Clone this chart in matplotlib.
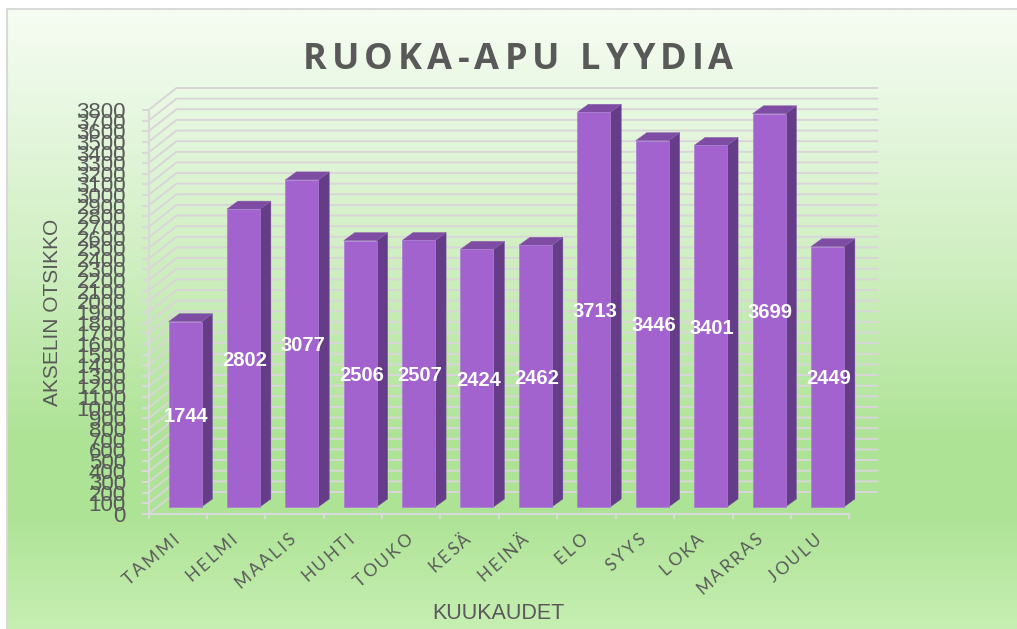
import numpy as np
import matplotlib
matplotlib.use("Agg")
import matplotlib.pyplot as plt
from matplotlib.patches import Polygon
from matplotlib.text import Text
from matplotlib.textpath import text_to_path
from matplotlib.transforms import IdentityTransform

months = ["TAMMI", "HELMI", "MAALIS", "HUHTI", "TOUKO", "KESÄ", "HEINÄ", "ELO", "SYYS", "LOKA", "MARRAS", "JOULU"]
values = [1744, 2802, 3077, 2506, 2507, 2424, 2462, 3713, 3446, 3401, 3699, 2449]
y_ticks = np.arange(0, 3900, 100)
title = "RUOKA-APU LYYDIA"
x_title = "KUUKAUDET"
y_title = "AKSELIN OTSIKKO"

W, H = 1017, 629
GREY = "#595959"
GRID = "#d9d5d9"
FRONT, SIDE, TOP = "#a263cf", "#643c87", "#7e4ca3"

# front plane of the fake 3d box, in pixels
LEFT, RIGHT, BASE, CEIL = 148.5, 849.3, 514.0, 110.0
PX_X = (RIGHT - LEFT) / 12
PX_Y = (BASE - CEIL) / 3800


class SpacedText(Text):
    """Text with letter spacing in pixels, matplotlib has no option for that."""
    def __init__(self, x, y, s, spacing=0, **kw):
        super().__init__(x, y, s, **kw)
        self.spacing = spacing

    def draw(self, renderer):
        s = self.get_text()
        prop = self.get_fontproperties()
        scale = self.get_figure().dpi / 72
        adv = [text_to_path.get_text_width_height_descent(s[:i], prop, False)[0] * scale + i * self.spacing
               if i else 0.0 for i in range(len(s))]
        total = text_to_path.get_text_width_height_descent(s, prop, False)[0] * scale + (len(s) - 1) * self.spacing
        shift = {"left": 0.0, "center": -total / 2, "right": -total}[self.get_ha()]
        a = np.radians(self.get_rotation())
        x0, y0 = self.get_transform().transform(self.get_position())
        for ch, p in zip(s, adv):
            t = Text(x0 + (p + shift) * np.cos(a), y0 + (p + shift) * np.sin(a), ch,
                     fontproperties=prop, color=self.get_color(), rotation=self.get_rotation(),
                     rotation_mode="anchor", ha="left", va="baseline", transform=IdentityTransform())
            t.set_figure(self.get_figure())
            t.draw(renderer)


fig = plt.figure(figsize=(W / 100, H / 100), dpi=100, facecolor="white")

# chart area background, vertical gradient
bg = fig.add_axes([0, 0, 1, 1], zorder=0)
bg.set_xlim(0, W); bg.set_ylim(H, 0); bg.axis("off")
rows = np.arange(H)
stops = [9, 90, 270, 440, 510, 629]
rgb = [(245, 252, 241), (233, 248, 227), (205, 238, 190), (173, 227, 149), (173, 227, 149), (199, 239, 179)]
grad = np.stack([np.interp(rows, stops, [c[k] for c in rgb]) for k in range(3)], axis=1)[:, None, :] / 255
bg.imshow(grad, extent=(7, W, H, 9), aspect="auto", interpolation="bilinear")
bg.set_xlim(0, W); bg.set_ylim(H, 0)
bg.plot([7, 7, W], [H, 9, 9], color="#d9d9d9", lw=1.5)

ax = fig.add_axes([LEFT / W, 1 - BASE / H, (RIGHT - LEFT) / W, (BASE - CEIL) / H], zorder=1)
ax.patch.set_alpha(0)
x = np.arange(12)
ax.set_xlim(-0.5, 11.5)
ax.set_ylim(0, 3800)

# back wall and side wall
depth_x, depth_y = 28.0 / PX_X, 22.0 / PX_Y
for v in y_ticks:
    ax.plot([-0.5, -0.5 + depth_x, 11.5 + depth_x], [v, v + depth_y, v + depth_y],
            color=GRID, lw=1.4, clip_on=False, zorder=1, solid_joinstyle="miter")

# bars: front face from the library, side and top as polygons
bar_dx, bar_dy = 7.3 / PX_X, 7.0 / PX_Y
bar_w = 33.0 / PX_X
side_x, side_y = 11.0 / PX_X, 8.0 / PX_Y
for xi, v in zip(x, values):
    x0 = xi + bar_dx - bar_w / 2
    x1 = x0 + bar_w
    top = bar_dy + v
    ax.add_patch(Polygon([(x1, bar_dy), (x1 + side_x, bar_dy + side_y), (x1 + side_x, top + side_y), (x1, top)],
                         facecolor=SIDE, edgecolor="#7a58a0", lw=0.3, clip_on=False, zorder=3))
    ax.add_patch(Polygon([(x0, top), (x0 + side_x, top + side_y), (x1 + side_x, top + side_y), (x1, top)],
                         facecolor=TOP, edgecolor="#8a62ac", lw=0.3, clip_on=False, zorder=3))
    ax.bar(xi + bar_dx, v, bar_w, bottom=bar_dy, color=FRONT, edgecolor="#ad7cd6", lw=0.5, clip_on=False, zorder=4)
    ax.text(xi + bar_dx + 1.2 / PX_X, bar_dy + v / 2 - 2.0 / PX_Y, str(v), color="white", fontsize=14.5, fontweight="bold",
            family="Liberation Sans", ha="center", va="center", zorder=6, clip_on=False)

# axes
for s in ("top", "right"):
    ax.spines[s].set_visible(False)
for s in ("left", "bottom"):
    ax.spines[s].set_color("#d9d9d9")
    ax.spines[s].set_linewidth(1.5)
ax.set_yticks(y_ticks)
ax.set_yticklabels([str(v) for v in y_ticks], family="Liberation Sans", fontsize=16, color=GREY)
ax.tick_params(axis="y", length=5.2, width=1.5, color="#d9d9d9", pad=11)
ax.set_xticks(np.arange(-0.5, 12))
ax.set_xticklabels([])
ax.tick_params(axis="x", length=3.6, width=1.5, color="#d9d9d9")

for xi, m in zip(x, months):
    ax.add_artist(SpacedText(xi + 2.0 / PX_X, -27.0 / PX_Y, m, spacing=2.2, rotation=41, ha="right",
                             color=GREY, fontsize=12.5, family="Lato", clip_on=False,
                             transform=ax.transData))

ax.set_xlabel(x_title, family="Liberation Sans", fontsize=15.5, color=GREY)
ax.xaxis.set_label_coords(0.4994, -0.221)
ax.set_ylabel(y_title, family="Liberation Sans", fontsize=15, color=GREY)
ax.yaxis.set_label_coords(-0.1235, 0.5)

bg.add_artist(SpacedText(518, 69, title, spacing=5.2, ha="center", color=GREY, fontsize=26,
                         fontweight="bold", family="Open Sans", transform=bg.transData))

fig.savefig("out.png", dpi=100)
